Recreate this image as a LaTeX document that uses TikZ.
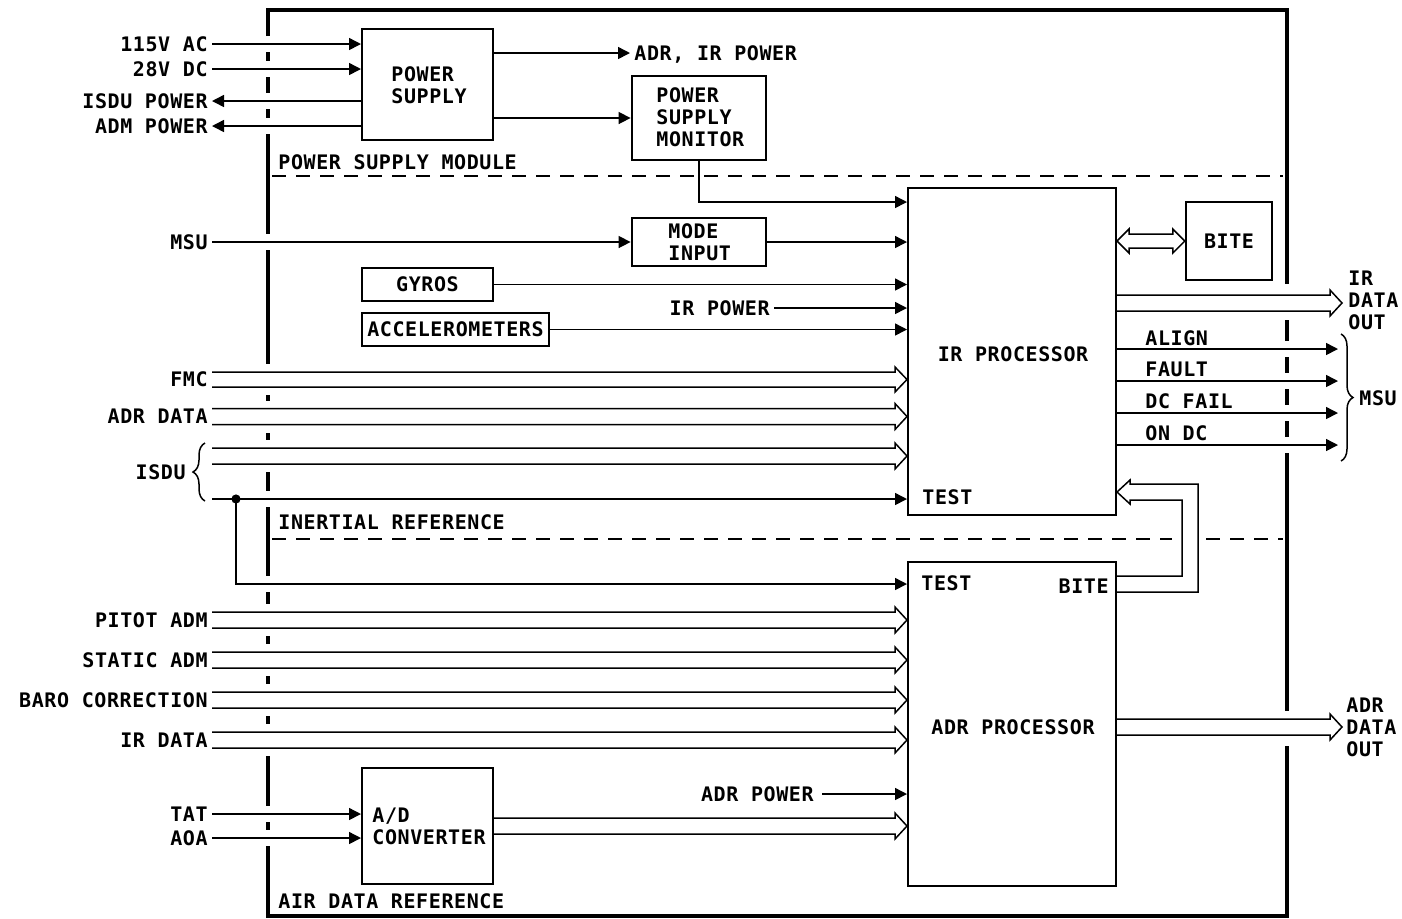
\documentclass[tikz,border=0pt]{standalone}
\usepackage{fontspec}
\setmainfont{DejaVu Sans Mono}[LetterSpace=3]
\usetikzlibrary{arrows.meta,calc,fit,decorations.pathreplacing}
\newcommand\busarrow[3]{%
  \draw[sig] ($(#1)+(0,-#3)$) -- ($(#2)+(-12,-#3)$) -- ($(#2)+(-12,-#3-5)$) -- (#2)
    -- ($(#2)+(-12,#3+5)$) -- ($(#2)+(-12,#3)$) -- ($(#1)+(0,#3)$);}
\tikzset{
  frame/.style={line width=2pt},
  fnt/.style={font=\bfseries\fontsize{10}{11}\selectfont},
  blk/.style={draw, line width=1pt, inner sep=0pt},
  hblk/.style={draw, line width=1.4pt, inner sep=0pt},
  txt/.style={fnt, inner sep=0pt, text height=7.3pt, text depth=0pt},
  mtxt/.style={fnt, inner sep=0pt, align=left},
  lbl/.style={txt, inner xsep=2pt},
  sig/.style={line width=0.75pt},
  arr/.style={sig, -{Triangle[length=6pt,width=6pt]}},
  sep/.style={line width=0.75pt, dash pattern=on 7pt off 5pt},
}
\begin{document}
\begin{tikzpicture}[x=0.5pt,y=-0.5pt]
\useasboundingbox (0,0) rectangle (1402,918);

% ---------- frame ----------
\draw[frame] (268,36) -- (268,10) -- (1287,10) -- (1287,284);
\draw[frame] (268,846) -- (268,916) -- (1287,916) -- (1287,746);
\foreach \a/\b in {52/61,77/93,109/118,134/234,250/364,395/401,433/440,472/491,507/576,592/604,636/644,676/684,716/724,756/806,822/830}
  \draw[frame] (268,\a) -- (268,\b);
\foreach \a/\b in {320/341,357/373,389/405,421/437,453/711}
  \draw[frame] (1287,\a) -- (1287,\b);

% ---------- separators ----------
\draw[sep] (272,176) -- (1283,176);
\draw[sep] (272,539) -- (1172,539);
\draw[sep] (1206,539) -- (1283,539);
\node[txt, anchor=west] (psmod) at (278,162) {POWER SUPPLY MODULE};
\node[txt, anchor=west] (inref) at (278,522) {INERTIAL REFERENCE};
\node[txt, anchor=west] (adref) at (278,901) {AIR DATA REFERENCE};

% ---------- blocks ----------
\node[blk, fit={(362,29)(493,140)}] (ps) {};
\node[mtxt, anchor=west] (pst) at (391,85) {POWER\\SUPPLY};
\node[hblk, fit={(632,76)(766,160)}] (psm) {};
\node[mtxt, anchor=west] (psmt) at (656,117) {POWER\\SUPPLY\\MONITOR};
\node[hblk, fit={(632,218)(766,266)}] (mode) {};
\node[mtxt, anchor=west] (modet) at (668,242) {MODE\\INPUT};
\node[hblk, fit={(362,268)(493,301)}] (gyro) {};
\node[txt] (gyrot) at (gyro.center) {GYROS};
\node[hblk, fit={(362,313)(549,346)}] (acc) {};
\node[txt] (acct) at (acc.center) {ACCELEROMETERS};
\node[blk, fit={(908,188)(1116,515)}] (ir) {};
\node[txt] (irt) at (1013,354) {IR PROCESSOR};
\node[txt, anchor=west] (irtest) at (922,497) {TEST};
\node[blk, line width=1.2pt, fit={(1186,202)(1272,280)}] (bite) {};
\node[txt] (bitet) at (bite.center) {BITE};
\node[blk, fit={(908,562)(1116,886)}] (adr) {};
\node[txt, anchor=west] (adrtest) at (921,583) {TEST};
\node[txt, anchor=east] (adrbite) at (1109,586) {BITE};
\node[txt] (adrt) at (1013,727) {ADR PROCESSOR};
\node[blk, fit={(362,768)(493,884)}] (ad) {};
\node[mtxt, anchor=west] (adt) at (372,826) {A/D\\CONVERTER};

% ---------- power supply ----------
\node[lbl, anchor=east] (ac) at (212,44) {115V AC};
\draw[arr] (ac.east) -- (ac.east -| ps.west);
\node[lbl, anchor=east] (dc) at (212,69) {28V DC};
\draw[arr] (dc.east) -- (dc.east -| ps.west);
\node[lbl, anchor=east] (isdup) at (212,101) {ISDU POWER};
\draw[arr] (isdup.east -| ps.west) -- (isdup.east);
\node[lbl, anchor=east] (admp) at (212,126) {ADM POWER};
\draw[arr] (admp.east -| ps.west) -- (admp.east);
\node[lbl, anchor=west] (adrir) at (630,53) {ADR, IR POWER};
\draw[arr] (adrir.west -| ps.east) -- (adrir.west);
\draw[arr] (psm.west -| ps.east) -- (psm.west);
\coordinate (r202) at (908,202);
\draw[arr] (psm.south) |- (r202 -| ir.west);

% ---------- IR inputs ----------
\node[lbl, anchor=east] (msu) at (212,242) {MSU};
\draw[arr] (msu.east) -- (mode.west);
\draw[arr] (mode.east) -- (mode.east -| ir.west);
\draw[arr] (gyro.east) -- (gyro.east -| ir.west);
\node[lbl, anchor=east] (irpow) at (774,308) {IR POWER};
\draw[arr] (irpow.east) -- (irpow.east -| ir.west);
\draw[arr] (acc.east) -- (acc.east -| ir.west);

\node[lbl, anchor=east] (fmc) at (212,379.5) {FMC};
\busarrow{fmc.east}{fmc.east -| ir.west}{7.5}
\node[lbl, anchor=east] (adrd) at (212,416.5) {ADR DATA};
\busarrow{adrd.east}{adrd.east -| ir.west}{8}
\coordinate (isduA) at (212,456);
\busarrow{isduA}{isduA -| ir.west}{8}
\coordinate (isduB) at (212,499);
\draw[arr] (isduB) -- (isduB -| ir.west);
\draw[sig, decorate, decoration={brace, amplitude=6pt}] (205,501) -- (205,443);
\node[lbl, anchor=east] (isdu) at (190,472) {ISDU};
\node[circle, fill, inner sep=0pt, minimum size=4.6pt] (jn) at (236,499) {};
\coordinate (r584) at (908,584);
\draw[arr] (jn.center) |- (r584 -| adr.west);

% ---------- ADR inputs ----------
\node[lbl, anchor=east] (pitot) at (212,620) {PITOT ADM};
\busarrow{pitot.east}{pitot.east -| adr.west}{8}
\node[lbl, anchor=east] (static) at (212,660) {STATIC ADM};
\busarrow{static.east}{static.east -| adr.west}{8}
\node[lbl, anchor=east] (baro) at (212,700) {BARO CORRECTION};
\busarrow{baro.east}{baro.east -| adr.west}{8}
\node[lbl, anchor=east] (irdata) at (212,740) {IR DATA};
\busarrow{irdata.east}{irdata.east -| adr.west}{8}
\node[lbl, anchor=east] (tat) at (212,814) {TAT};
\draw[arr] (tat.east) -- (tat.east -| ad.west);
\node[lbl, anchor=east] (aoa) at (212,838) {AOA};
\draw[arr] (aoa.east) -- (aoa.east -| ad.west);
\node[lbl, anchor=east] (adrpow) at (818,794) {ADR POWER};
\draw[arr] ([xshift=2pt]adrpow.east) -- (adrpow.east -| adr.west);
\busarrow{ad.east}{ad.east -| adr.west}{8}

% ---------- BITE link ----------
\coordinate (bl) at (ir.east |- bite.west);
\draw[sig] (bl) -- ($(bl)+(12,-12)$) -- ($(bl)+(12,-7)$) -- ($(bite.west)+(-12,-7)$)
  -- ($(bite.west)+(-12,-12)$) -- (bite.west) -- ($(bite.west)+(-12,12)$)
  -- ($(bite.west)+(-12,7)$) -- ($(bl)+(12,7)$) -- ($(bl)+(12,12)$) -- cycle;

% ---------- ADR BITE -> IR loop ----------
\coordinate (lt) at ($(ir.south east)+(0,-24)$);
\draw[sig] ($(adr.north east)+(0,15)$) -- ($(adr.north east)+(65,15)$) |- ($(lt)+(13,8)$)
  -- ($(lt)+(13,12)$) -- (lt) -- ($(lt)+(13,-12)$) -- ($(lt)+(13,-8)$)
  -| ($(adr.north east)+(81,31)$) -- ($(adr.north east)+(0,31)$);

% ---------- outputs ----------
\coordinate (irdo) at (1342,303);
\busarrow{ir.east |- irdo}{irdo}{8}
\node[mtxt, anchor=west] (irout) at (1348,300) {IR\\DATA\\OUT};
\coordinate (msuA) at (1338,349);
\coordinate (msuB) at (1338,381);
\coordinate (msuC) at (1338,413);
\coordinate (msuD) at (1338,445);
\draw[arr] (ir.east |- msuA) -- (msuA);
\draw[arr] (ir.east |- msuB) -- (msuB);
\draw[arr] (ir.east |- msuC) -- (msuC);
\draw[arr] (ir.east |- msuD) -- (msuD);
\node[txt, anchor=west] (align) at (1145,338) {ALIGN};
\node[txt, anchor=west] (fault) at (1145,369) {FAULT};
\node[txt, anchor=west] (dcfail) at (1145,401) {DC FAIL};
\node[txt, anchor=west] (ondc) at (1145,433) {ON DC};
\draw[sig, decorate, decoration={brace, amplitude=6pt}] (1341,334) -- (1341,461);
\node[txt, anchor=west] (msuo) at (1359,398) {MSU};
\coordinate (ado) at (1342,727);
\busarrow{adr.east |- ado}{ado}{8}
\node[mtxt, anchor=west] (adrout) at (1346,727) {ADR\\DATA\\OUT};
\end{tikzpicture}
\end{document}
